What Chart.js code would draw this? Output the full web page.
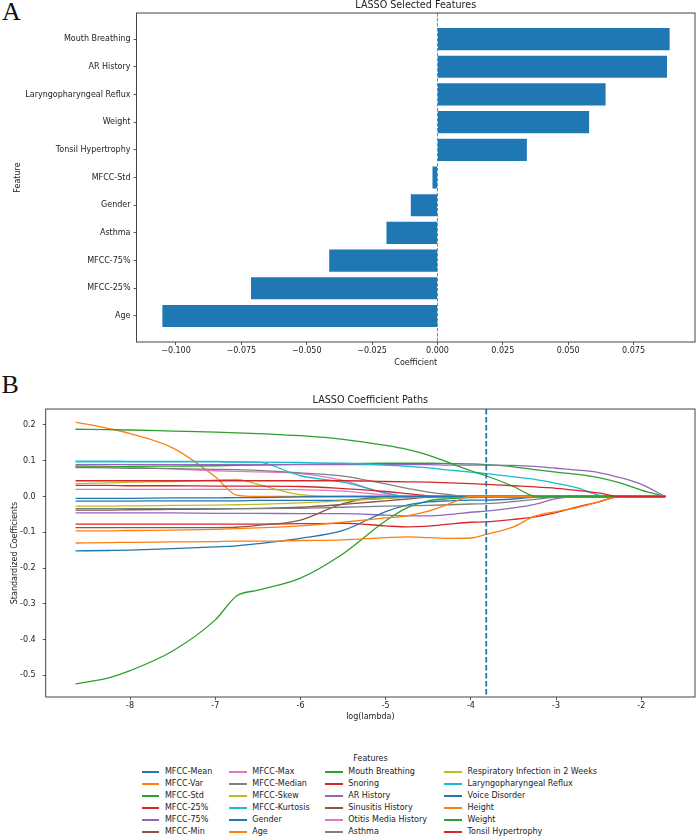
<!DOCTYPE html>
<html lang="en">
<head>
  <meta charset="UTF-8">
  <title>LASSO</title>
  <script src="https://cdn.jsdelivr.net/npm/chart.js@4"></script>
  <style>
    body { margin: 0; background: #fff; }
    #wrap { position: relative; width: 697px; height: 838px; font-family: 'DejaVu Sans', sans-serif; color: #222; overflow: hidden; }
    canvas { position: absolute; left: 0; }
    .panel { position: absolute; font-family: 'Liberation Serif', serif; font-size: 26px; line-height: 26px; color: #111; }
    #legTitle { position: absolute; top: 754px; left: 0; width: 741px; text-align: center; font-size: 8px; line-height: 10px; }
    #legGrid { position: absolute; top: 765.6px; left: 141.7px; display: grid; grid-auto-flow: column;
               grid-template-rows: repeat(6, 12.1px); grid-template-columns: 87.3px 96px 119.3px auto; }
    .item { display: flex; align-items: center; font-size: 8px; line-height: 12.1px; white-space: nowrap; }
    .sw { display: inline-block; width: 17.6px; height: 2px; margin-right: 5.7px; }
  </style>
</head>
<body>
<div id="wrap">
  <div class="panel" style="left:2px; top:-1.3px">A</div>
  <div class="panel" style="left:1.5px; top:372.4px">B</div>
  <canvas id="chartA" width="697" height="380" style="top:0"></canvas>
  <canvas id="chartB" width="697" height="350" style="top:380px"></canvas>
  <div id="legTitle">Features</div>
  <div id="legGrid"></div>
</div>
<script>
  // panel A: selected features
  const features = ['Mouth Breathing', 'AR History', 'Laryngopharyngeal Reflux', 'Weight', 'Tonsil Hypertrophy',
    'MFCC-Std', 'Gender', 'Asthma', 'MFCC-75%', 'MFCC-25%', 'Age'];
  const coefs = [0.0888, 0.0878, 0.0643, 0.0580, 0.0342, -0.0019, -0.0102, -0.0195, -0.0414, -0.0713, -0.1052];
  const coefTicks = [-0.100, -0.075, -0.050, -0.025, 0, 0.025, 0.050, 0.075];

  // panel B: coefficient paths
  const logLambda = [-8.64, -8.25, -8.0, -7.5, -7.0, -6.75, -6.5, -6.0, -5.5, -5.0, -4.75, -4.5, -4.25, -4.0, -3.82, -3.5, -3.25, -3.0, -2.75, -2.5, -2.25, -2.0, -1.72];
  const lambdaTicks = [-8, -7, -6, -5, -4, -3, -2];
  const pathTicks = [-0.5, -0.4, -0.3, -0.2, -0.1, 0, 0.1, 0.2];
  const bestLogLambda = -3.82;

  const mfccMean   = [-0.013,-0.013,-0.013,-0.012,-0.012,-0.012,-0.011,-0.011,-0.010,-0.005,-0.002,0,0,0,0,0,0,0,0,0,0,0,0];
  const mfccVar    = [0.208,0.190,0.176,0.136,0.055,0.004,0,0,0,0,0,0,0,0,0,0,0,0,0,0,0,0,0];
  const mfccStd    = [-0.524,-0.507,-0.487,-0.432,-0.345,-0.278,-0.262,-0.228,-0.160,-0.068,-0.032,-0.012,-0.006,-0.003,-0.002,0,0,0,0,0,0,0,0];
  const mfcc25     = [-0.077,-0.077,-0.077,-0.077,-0.077,-0.077,-0.077,-0.076,-0.075,-0.082,-0.085,-0.083,-0.077,-0.072,-0.071,-0.064,-0.057,-0.045,-0.029,-0.015,0,0,0];
  const mfcc75     = [-0.046,-0.046,-0.046,-0.046,-0.047,-0.047,-0.047,-0.048,-0.048,-0.052,-0.054,-0.054,-0.050,-0.044,-0.041,-0.032,-0.022,-0.006,0,0,0,0,0];
  const mfccMin    = [-0.087,-0.087,-0.087,-0.087,-0.087,-0.086,-0.081,-0.066,-0.020,0,0,0,0,0,0,0,0,0,0,0,0,0,0];
  const mfccMax    = [0.086,0.084,0.082,0.077,0.072,0.070,0.069,0.064,0.045,0.008,0,0,0,0,0,0,0,0,0,0,0,0,0];
  const mfccMedian = [0.081,0.080,0.079,0.078,0.076,0.075,0.073,0.066,0.057,0.035,0.023,0.012,0.005,0,0,0,0,0,0,0,0,0,0];
  const mfccSkew   = [0.036,0.038,0.040,0.042,0.046,0.048,0.034,0.005,0,0,0,0,0,0,0,0,0,0,0,0,0,0,0];
  const mfccKurt   = [0.099,0.099,0.098,0.098,0.098,0.097,0.096,0.058,0.040,0.010,0,0,0,0,0,0,0,0,0,0,0,0,0];
  const gender     = [-0.152,-0.151,-0.150,-0.146,-0.141,-0.138,-0.132,-0.117,-0.095,-0.042,-0.024,-0.015,-0.012,-0.010,-0.010,-0.007,-0.002,0,0,0,0,0,0];
  const age        = [-0.130,-0.129,-0.128,-0.127,-0.126,-0.125,-0.125,-0.123,-0.121,-0.115,-0.113,-0.115,-0.117,-0.116,-0.106,-0.085,-0.055,-0.042,-0.031,-0.015,0,0,0];
  const mouth      = [0.083,0.083,0.084,0.085,0.086,0.087,0.088,0.090,0.092,0.093,0.093,0.093,0.092,0.091,0.089,0.083,0.075,0.068,0.062,0.053,0.038,0.018,0];
  const snoring    = [0.031,0.031,0.030,0.030,0.029,0.029,0.029,0.028,0.022,0.014,0.008,0.002,0,0,0,0,0,0,0,0,0,0,0];
  const arHistory  = [0.089,0.089,0.089,0.089,0.089,0.089,0.089,0.089,0.089,0.089,0.089,0.089,0.088,0.088,0.088,0.087,0.084,0.079,0.074,0.067,0.053,0.034,0];
  const sinusitis  = [-0.038,-0.038,-0.037,-0.036,-0.035,-0.034,-0.033,-0.030,-0.022,-0.012,-0.007,-0.002,0,0,0,0,0,0,0,0,0,0,0];
  const otitis     = [0.020,0.020,0.020,0.020,0.020,0.020,0.020,0.019,0.015,0.004,0,0,0,0,0,0,0,0,0,0,0,0,0];
  const asthma     = [-0.034,-0.034,-0.034,-0.034,-0.034,-0.034,-0.034,-0.033,-0.030,-0.027,-0.026,-0.025,-0.023,-0.021,-0.020,-0.014,-0.008,-0.002,0,0,0,0,0];
  const respInf    = [-0.027,-0.027,-0.026,-0.025,-0.024,-0.023,-0.022,-0.018,-0.012,-0.005,-0.002,0,0,0,0,0,0,0,0,0,0,0,0];
  const lpr        = [0.097,0.097,0.097,0.097,0.097,0.096,0.096,0.095,0.093,0.088,0.084,0.080,0.074,0.068,0.064,0.055,0.048,0.037,0.024,0.004,0,0,0];
  const voice      = [-0.005,-0.005,-0.005,-0.004,-0.004,-0.003,-0.003,-0.001,0,0,0,0,0,0,0,0,0,0,0,0,0,0,0];
  const height     = [-0.096,-0.096,-0.095,-0.094,-0.092,-0.090,-0.088,-0.082,-0.072,-0.060,-0.054,-0.041,-0.020,0,0,0,0,0,0,0,0,0,0];
  const weight     = [0.188,0.187,0.186,0.183,0.180,0.178,0.176,0.170,0.160,0.143,0.132,0.116,0.094,0.072,0.058,0.028,0.001,0,0,0,0,0,0];
  const tonsil     = [0.044,0.044,0.044,0.044,0.044,0.044,0.044,0.044,0.044,0.042,0.041,0.040,0.038,0.036,0.034,0.030,0.027,0.023,0.017,0.010,0,0,0];

  const pathNames = ['MFCC-Mean', 'MFCC-Var', 'MFCC-Std', 'MFCC-25%', 'MFCC-75%', 'MFCC-Min', 'MFCC-Max', 'MFCC-Median',
    'MFCC-Skew', 'MFCC-Kurtosis', 'Gender', 'Age', 'Mouth Breathing', 'Snoring', 'AR History', 'Sinusitis History',
    'Otitis Media History', 'Asthma', 'Respiratory Infection in 2 Weeks', 'Laryngopharyngeal Reflux', 'Voice Disorder',
    'Height', 'Weight', 'Tonsil Hypertrophy'];
  const pathValues = [mfccMean, mfccVar, mfccStd, mfcc25, mfcc75, mfccMin, mfccMax, mfccMedian, mfccSkew, mfccKurt,
    gender, age, mouth, snoring, arHistory, sinusitis, otitis, asthma, respInf, lpr, voice, height, weight, tonsil];

  const tab10 = ['#1f77b4', '#ff7f0e', '#2ca02c', '#d62728', '#9467bd', '#8c564b', '#e377c2', '#7f7f7f', '#bcbd22', '#17becf'];

  Chart.defaults.font.family = "'DejaVu Sans', sans-serif";
  Chart.defaults.color = '#222';

  const fmt = (d, m) => v => (v < 0 ? m : '') + Math.abs(v).toFixed(d);

  // box around the plot area + dashed reference line
  const frame = {
    id: 'frame',
    afterDatasetsDraw(chart, args, opts) {
      const {ctx, chartArea: a} = chart;
      ctx.save();
      if (opts.ref) {
        const sc = chart.scales[opts.ref.axis];
        const px = sc.getPixelForValue(opts.ref.value);
        ctx.strokeStyle = opts.ref.color;
        ctx.lineWidth = opts.ref.width;
        ctx.setLineDash(opts.ref.dash);
        ctx.beginPath();
        ctx.moveTo(px, a.top);
        ctx.lineTo(px, a.bottom);
        ctx.stroke();
        ctx.setLineDash([]);
      }
      ctx.strokeStyle = '#444';
      ctx.lineWidth = 1;
      ctx.strokeRect(a.left, a.top, a.right - a.left, a.bottom - a.top);
      ctx.restore();
    }
  };

  const htmlLegend = {
    id: 'htmlLegend',
    afterUpdate(chart) {
      const box = document.getElementById('legGrid');
      box.innerHTML = '';
      chart.data.datasets.forEach(ds => {
        const item = document.createElement('div');
        item.className = 'item';
        const sw = document.createElement('span');
        sw.className = 'sw';
        sw.style.background = ds.borderColor;
        const tx = document.createElement('span');
        tx.textContent = ds.label;
        item.append(sw, tx);
        box.appendChild(item);
      });
    }
  };

  const tickFont = {size: 8};
  const gridOpts = {drawOnChartArea: false, offset: false, tickLength: 3, color: '#333', lineWidth: 0.8};

  new Chart(document.getElementById('chartA'), {
    type: 'bar',
    data: {
      datasets: [{
        data: features.map((f, i) => ({x: coefs[i], y: i})),
        backgroundColor: '#1f77b4',
        borderWidth: 0,
        barPercentage: 0.8,
        categoryPercentage: 1.0
      }]
    },
    plugins: [frame],
    options: {
      responsive: false,
      animation: false,
      indexAxis: 'y',
      layout: {padding: {left: 0, right: 2, top: 0, bottom: 0}},
      plugins: {
        legend: {display: false},
        tooltip: {enabled: false},
        title: {display: true, text: 'LASSO Selected Features', fullSize: false, color: '#222',
                font: {size: 9.6, weight: 'normal'}, padding: {top: 0, bottom: 1.5}},
        frame: {ref: {axis: 'x', value: 0, color: '#1f77b4', width: 0.8, dash: [3.5, 1.5]}}
      },
      scales: {
        x: {
          type: 'linear', min: -0.1151, max: 0.0985, offset: false,
          afterFit: s => { s.height = 38; },
          afterBuildTicks: s => { s.ticks = coefTicks.map(v => ({value: v})); },
          ticks: {callback: fmt(3, '\u2212'), font: tickFont, padding: 1.4, maxRotation: 0, autoSkip: false},
          grid: gridOpts,
          border: {display: false},
          title: {display: true, text: 'Coefficient', font: tickFont, padding: {top: 0, bottom: 12.5}}
        },
        y: {
          type: 'linear', reverse: true, min: -0.94, max: 10.94, offset: false,
          afterFit: s => { s.width = 136.5; },
          afterBuildTicks: s => { s.ticks = features.map((f, i) => ({value: i})); },
          ticks: {callback: v => features[v], font: tickFont, padding: 3, autoSkip: false},
          grid: gridOpts,
          border: {display: false},
          title: {display: true, text: 'Feature', font: tickFont, padding: {top: 12.7, bottom: 0}}
        }
      }
    }
  });

  new Chart(document.getElementById('chartB'), {
    type: 'line',
    data: {
      datasets: pathNames.map((name, i) => ({
        label: name,
        data: logLambda.map((x, j) => ({x: x, y: pathValues[i][j]})),
        borderColor: tab10[i % 10],
        backgroundColor: tab10[i % 10],
        borderWidth: 1.3,
        pointRadius: 0,
        fill: false,
        cubicInterpolationMode: 'monotone',
        order: pathNames.length - i
      }))
    },
    plugins: [frame, htmlLegend],
    options: {
      responsive: false,
      animation: false,
      layout: {padding: {left: 0, right: 2, top: 0, bottom: 0}},
      plugins: {
        legend: {display: false},
        tooltip: {enabled: false},
        title: {display: true, text: 'LASSO Coefficient Paths', fullSize: false, color: '#222',
                font: {size: 9.6, weight: 'normal'}, padding: {top: 15.2, bottom: 2.3}},
        frame: {ref: {axis: 'x', value: bestLogLambda, color: '#1f77b4', width: 1.8, dash: [5.5, 2.5]}}
      },
      scales: {
        x: {
          type: 'linear', min: -8.99, max: -1.37,
          afterFit: s => { s.height = 33; },
          afterBuildTicks: s => { s.ticks = lambdaTicks.map(v => ({value: v})); },
          ticks: {callback: fmt(0, '-'), font: tickFont, padding: 1, maxRotation: 0, autoSkip: false},
          grid: gridOpts,
          border: {display: false},
          title: {display: true, text: 'log(lambda)', font: tickFont, padding: {top: 0, bottom: 8.2}}
        },
        y: {
          type: 'linear', min: -0.5606, max: 0.2446,
          afterFit: s => { s.width = 45.7; },
          afterBuildTicks: s => { s.ticks = pathTicks.map(v => ({value: v})); },
          ticks: {callback: fmt(1, '-'), font: tickFont, padding: 7, autoSkip: false},
          grid: gridOpts,
          border: {display: false},
          title: {display: true, text: 'Standardized Coefficients', font: tickFont, padding: {top: 10.2, bottom: 0}}
        }
      }
    }
  });
</script>
</body>
</html>
